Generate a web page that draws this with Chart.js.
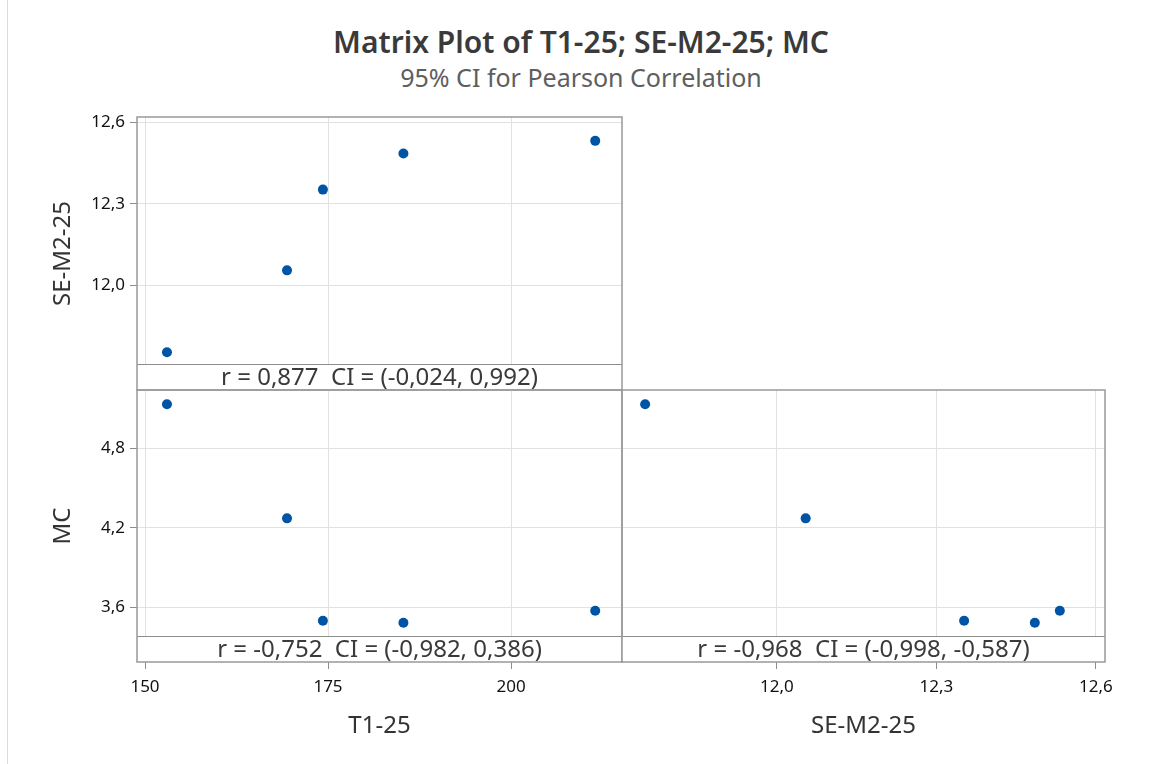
<!DOCTYPE html>
<html>
<head>
<meta charset="utf-8">
<script src="https://cdn.jsdelivr.net/npm/chart.js@4.4.1/dist/chart.umd.min.js"></script>
<style>
  body { margin: 0; background: #fff; }
  #page { position: relative; width: 1150px; height: 764px; background: #fff; overflow: hidden; font-family: 'Noto Sans', sans-serif; }
  #page canvas { position: absolute; left: 0; top: 0; }
  .edge { position: absolute; left: 7px; top: 0; width: 1px; height: 764px; background: #dcdcdc; }
  #title { position: absolute; left: 0; width: 1162px; top: 23px; text-align: center; font-size: 30px; font-weight: 600; color: #3a3a3a; line-height: 38px; }
  #subtitle { position: absolute; left: 0; width: 1162px; top: 61px; text-align: center; font-size: 25px; color: #5e5e5e; line-height: 32px; }
</style>
</head>
<body>
<div id="page">
  <div class="edge"></div>
  <div id="title">Matrix Plot of T1-25; SE-M2-25; MC</div>
  <div id="subtitle">95% CI for Pearson Correlation</div>
  <canvas id="t1Se" width="1150" height="764"></canvas>
  <canvas id="t1Mc" width="1150" height="764"></canvas>
  <canvas id="seMc" width="1150" height="764"></canvas>
</div>
<script>
// data columns (5 observations)
const t1 = [153.0, 169.4, 174.3, 185.3, 211.5];
const seM2 = [11.752, 12.054, 12.352, 12.485, 12.532];
const mc = [5.129, 4.270, 3.499, 3.483, 3.574];

// tick values and their labels
const t1Ticks = [150, 175, 200];
const t1TickLabels = ['150', '175', '200'];
const seTicks = [12.0, 12.3, 12.6];
const seTickLabels = ['12,0', '12,3', '12,6'];
const mcTicks = [3.6, 4.2, 4.8];
const mcTickLabels = ['3,6', '4,2', '4,8'];

// correlation strips under each panel
const corrT1Se = 'r = 0,877  CI = (-0,024, 0,992)';
const corrT1Mc = 'r = -0,752  CI = (-0,982, 0,386)';
const corrSeMc = 'r = -0,968  CI = (-0,998, -0,587)';

const FONT = 'Noto Sans';
const STRIP = 26;

// frame around the panel plus the r / CI strip at its bottom
const panelFrame = {
  id: 'panelFrame',
  afterDraw(chart, args, opts) {
    const { ctx, chartArea: a } = chart;
    const stripTop = a.bottom - STRIP;
    ctx.save();
    ctx.fillStyle = '#fff';
    ctx.fillRect(a.left, stripTop, a.right - a.left, STRIP);
    ctx.strokeStyle = '#8c8c8c';
    ctx.lineWidth = 1;
    ctx.beginPath();
    ctx.moveTo(a.left, stripTop + 0.5);
    ctx.lineTo(a.right, stripTop + 0.5);
    ctx.stroke();
    ctx.strokeStyle = '#999';
    ctx.lineWidth = 1.5;
    ctx.strokeRect(a.left, a.top, a.right - a.left, a.bottom - a.top);
    ctx.fillStyle = '#3a3a3a';
    ctx.font = '24px "' + FONT + '"';
    ctx.textAlign = 'center';
    ctx.textBaseline = 'middle';
    ctx.fillText(opts.text, (a.left + a.right) / 2, stripTop + STRIP / 2 + 1);
    ctx.restore();
  }
};

const gridStyle = { color: '#e1e1e1', lineWidth: 1, tickColor: '#8c8c8c', tickLength: 7 };

function axis(min, max, tickVals, tickLabels, title, show, horizontal) {
  const a = {
    type: 'linear',
    position: horizontal ? 'bottom' : 'left',
    min: min,
    max: max,
    afterBuildTicks: s => { s.ticks = tickVals.map(v => ({ value: v })); },
    ticks: {
      display: show,
      callback: (v, i) => tickLabels[i],
      font: { family: FONT, size: 17 },
      color: '#111',
      padding: horizontal ? 8 : 5,
      maxRotation: 0
    },
    grid: Object.assign({}, gridStyle, { drawTicks: show }),
    border: { display: false },
    title: {
      display: show,
      text: title,
      font: { family: FONT, size: 24 },
      color: '#333',
      padding: horizontal ? { top: 0, bottom: 1 } : { top: 9, bottom: 0 }
    }
  };
  if (horizontal) {
    a.afterFit = s => { s.height = show ? 80 : 0; };
  } else {
    a.afterFit = s => { s.width = show ? 97 : 0; };
  }
  return a;
}

function panel(id, xs, ys, xAxis, yAxis, padding, corrText) {
  return new Chart(document.getElementById(id), {
    type: 'scatter',
    data: {
      datasets: [{
        data: xs.map((v, i) => ({ x: v, y: ys[i] })),
        backgroundColor: '#0054a6',
        borderWidth: 0,
        pointRadius: 5
      }]
    },
    options: {
      responsive: false,
      animation: false,
      events: [],
      layout: { padding: padding },
      scales: { x: xAxis, y: yAxis },
      plugins: {
        legend: { display: false },
        tooltip: { enabled: false },
        panelFrame: { text: corrText }
      }
    },
    plugins: [panelFrame]
  });
}

// T1-25 vs SE-M2-25 (top left)
panel('t1Se', t1, seM2,
  axis(148.907, 215.16, t1Ticks, t1TickLabels, 'T1-25', false, true),
  axis(11.6125, 12.620, seTicks, seTickLabels, 'SE-M2-25', true, false),
  { left: 40, top: 117, right: 528, bottom: 374 },
  corrT1Se);

// T1-25 vs MC (bottom left)
panel('t1Mc', t1, mc,
  axis(148.907, 215.16, t1Ticks, t1TickLabels, 'T1-25', true, true),
  axis(3.188, 5.237, mcTicks, mcTickLabels, 'MC', true, false),
  { left: 40, top: 390, right: 528, bottom: 22 },
  corrT1Mc);

// SE-M2-25 vs MC (bottom right)
panel('seMc', seM2, mc,
  axis(11.7085, 12.617, seTicks, seTickLabels, 'SE-M2-25', true, true),
  axis(3.188, 5.237, mcTicks, mcTickLabels, 'MC', false, false),
  { left: 622, top: 390, right: 45, bottom: 22 },
  corrSeMc);
</script>
</body>
</html>
